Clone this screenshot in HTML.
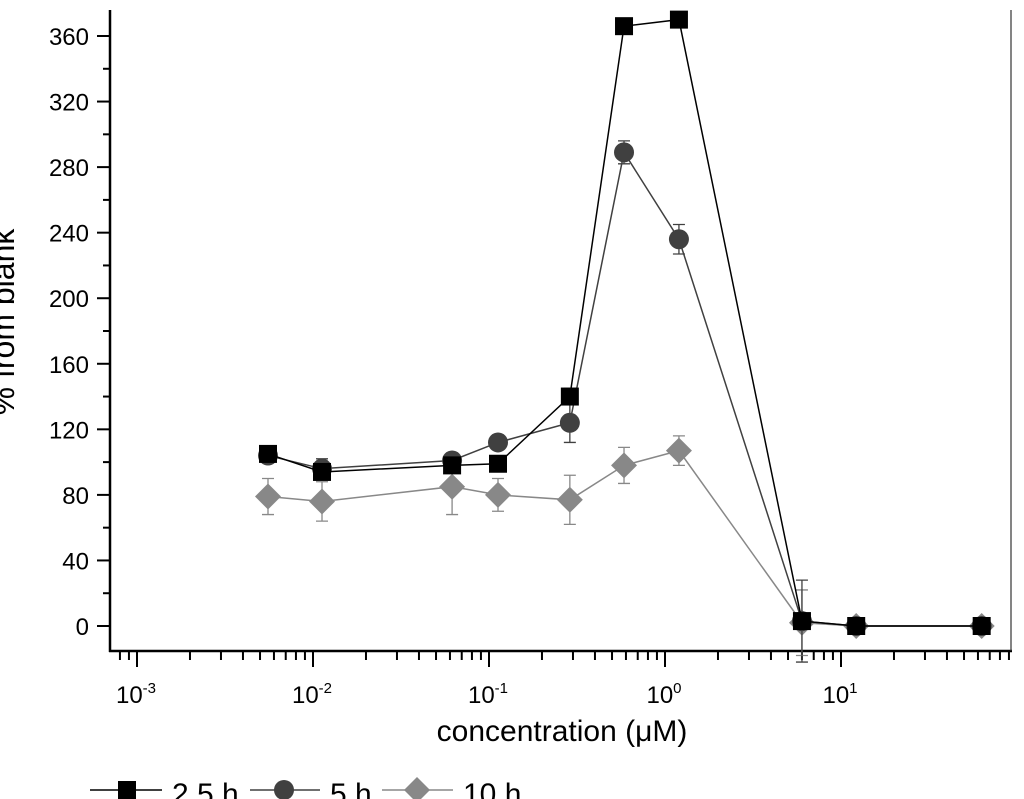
<!DOCTYPE html>
<html><head><meta charset="utf-8"><style>
html,body{margin:0;padding:0;background:#fff;overflow:hidden}
svg{display:block;font-family:"Liberation Sans",sans-serif}
</style></head><body>
<svg id="chart" width="1024" height="799" viewBox="0 0 1024 799" xmlns="http://www.w3.org/2000/svg">
<g id="axes"></g>
<g id="series"></g>
<text transform="translate(14,322) rotate(-90)" text-anchor="middle" font-size="32">% from blank</text>
<text x="562" y="741" text-anchor="middle" font-size="30">concentration (μM)</text>
<g id="legend"></g>
</svg>
<script>
const conc = [0.00555, 0.01125, 0.0617, 0.1125, 0.288, 0.585, 1.2, 6.0, 12.2, 63];
const s25 = [105, 94, 98, 99, 140, 366, 370, 3, 0, 0];
const s25err = [3, 3, 2, 2, 5, 3, 3, 3, 1, 1];
const s5 = [104, 96, 101, 112, 124, 289, 236, 3, 0, 0];
const s5err = [4, 6, 4, 3, 12, 7, 9, 25, 1, 1];
const s10 = [79, 76, 85, 80, 77, 98, 107, 2, 0, 0];
const s10err = [11, 12, 17, 10, 15, 11, 9, 20, 1, 1];
const yTicks = [0, 40, 80, 120, 160, 200, 240, 280, 320, 360];
const xDecades = [-3, -2, -1, 0, 1];
const seriesNames = ["2.5 h", "5 h", "10 h"];

const NS = "http://www.w3.org/2000/svg";
const X0 = 137, DEC = 176;
function xs(c){ return X0 + (Math.log10(c) + 3) * DEC; }
function ys(v){ return 626 - v * (590/360); }
function mk(tag, attrs, parent){ const e = document.createElementNS(NS, tag); for (const k in attrs) e.setAttribute(k, attrs[k]); parent.appendChild(e); return e; }

const axes = document.getElementById('axes');
let el;
el = mk('line', {x1:110, y1:10, x2:110, y2:652, stroke:'#000', 'stroke-width':2.5}, axes);


el = mk('line', {x1:109, y1:651, x2:1012, y2:651, stroke:'#000', 'stroke-width':2.5}, axes);


el = mk('line', {x1:1011, y1:10, x2:1011, y2:651, stroke:'#333', 'stroke-width':1.2}, axes);



for (let i = 0; i < yTicks.length; i++) {
  const v = yTicks[i], y = ys(v);
  el = mk('line', {x1:97, y1:y, x2:110, y2:y, stroke:'#000', 'stroke-width':2}, axes);
  
  
  const t = mk('text', {x:89, y:y+9, 'text-anchor':'end', 'font-size':24}, axes);
  t.textContent = v;
  
  
  const ym = ys(v + 20);
  if (ym > 5) {
    el = mk('line', {x1:103, y1:ym, x2:110, y2:ym, stroke:'#000', 'stroke-width':2}, axes);
    
    
  }
}
for (let d = -4; d <= 1; d++) {
  for (let m = 1; m <= 9; m++) {
    const x = xs(m * Math.pow(10, d));
    if (x < 112 || x > 1010) continue;
    el = mk('line', {x1:x, y1:651, x2:x, y2: m === 1 ? 667 : 660, stroke:'#000', 'stroke-width':2}, axes);
    
    
  }
}
for (let i = 0; i < xDecades.length; i++) {
  const x = xs(Math.pow(10, xDecades[i]));
  const t = mk('text', {x:x-1, y:703, 'text-anchor':'middle', 'font-size':24}, axes);
  
  
  const a = document.createElementNS(NS, 'tspan'); a.textContent = '10'; t.appendChild(a);
  const b = document.createElementNS(NS, 'tspan'); b.setAttribute('dy', '-10'); b.setAttribute('font-size', '15'); b.textContent = xDecades[i]; t.appendChild(b);
}

function marker(type, x, y, color, parent){
  let e;
  if (type === 'square') e = mk('rect', {x:x-9, y:y-9, width:18, height:18, fill:color}, parent);
  else if (type === 'circle') e = mk('circle', {cx:x, cy:y, r:10, fill:color}, parent);
  else e = mk('polygon', {points:`${x},${y-13} ${x+13},${y} ${x},${y+13} ${x-13},${y}`, fill:color}, parent);
  return e;
}

const sg = document.getElementById('series');
const defs = [
  {vals:s10, err:s10err, color:'#888888', type:'diamond', name:'series-10h'},
  {vals:s5, err:s5err, color:'#404040', type:'circle', name:'series-5h'},
  {vals:s25, err:s25err, color:'#000000', type:'square', name:'series-2-5h'}
];
defs.forEach(s => {
  const g = mk('g', {}, sg);
  
  
  const pts = conc.map((c, i) => xs(c) + ',' + ys(s.vals[i])).join(' ');
  el = mk('polyline', {points:pts, fill:'none', stroke:s.color, 'stroke-width':1.5}, g);
  
  
  conc.forEach((c, i) => {
    const x = xs(c), y1 = ys(s.vals[i] - s.err[i]), y2 = ys(s.vals[i] + s.err[i]);
    el = mk('path', {d:`M${x},${y1}V${y2}M${x-6},${y1}H${x+6}M${x-6},${y2}H${x+6}`, stroke:s.color, 'stroke-width':1.3, fill:'none'}, g);
    
    
  });
  conc.forEach((c, i) => {
    el = marker(s.type, xs(c), ys(s.vals[i]), s.color, g);
    
    
  });
});

const lg = document.getElementById('legend');
const legendPos = [{x0:90, x1:162, mx:127, tx:172}, {x0:250, x1:320, mx:284, tx:330}, {x0:382, x1:453, mx:417, tx:463}];
const legendDefs = [defs[2], defs[1], defs[0]];
legendPos.forEach((p, i) => {
  const g = mk('g', {}, lg);
  
  
  mk('line', {x1:p.x0, y1:790, x2:p.x1, y2:790, stroke:legendDefs[i].color, 'stroke-width':1.5}, g);
  marker(legendDefs[i].type, p.mx, 790, legendDefs[i].color, g);
  const t = mk('text', {x:p.tx, y:804, 'font-size':30}, g);
  t.textContent = seriesNames[i];
});
</script>
</body></html>
